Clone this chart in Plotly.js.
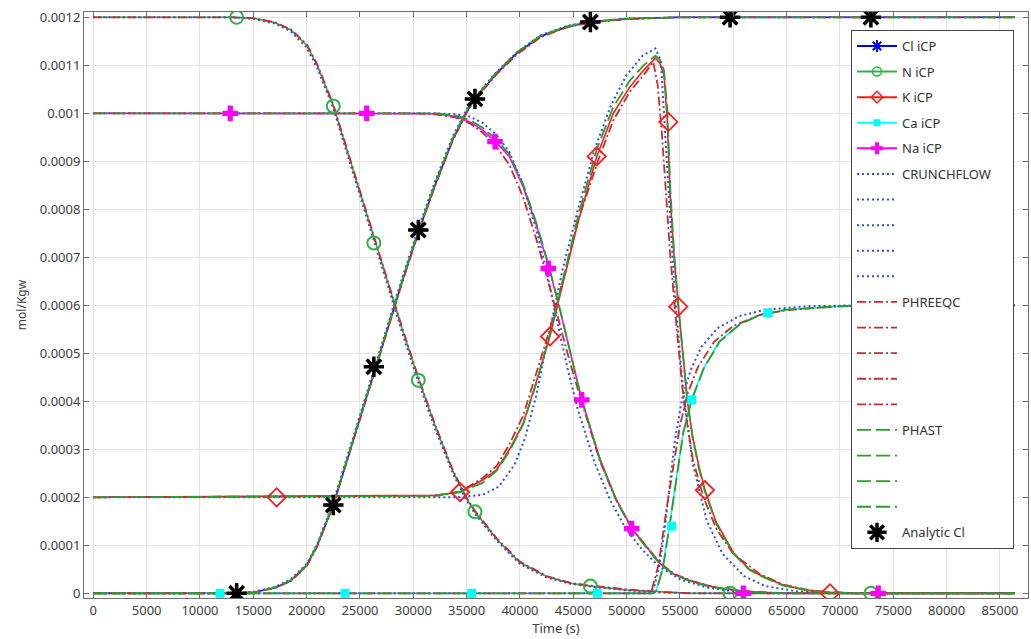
<!DOCTYPE html>
<html><head><meta charset="utf-8">
<script src="https://cdn.plot.ly/plotly-3.0.1.min.js"></script>
<style>html,body{margin:0;padding:0;background:#fff}#chart{width:1031px;height:639px}</style>
</head><body><div id="chart"></div>
<script>
// ---------------- data (time in s, concentration in mol/Kgw) ----------------
const tCl = [0,13000,15000,17000,18500,20000,21000,22500,24000,25000,26300,28000,29000,30470,32000,33700,35000,35780,37800,39700,41900,44400,46600,50000,55000,86400];
const clIcp = [0,0,0.000002,0.000011,0.000026,0.000058,0.0001,0.000184,0.000292,0.000365,0.00046,0.00058,0.000652,0.000752,0.000848,0.000945,0.001003,0.00103,0.001083,0.001125,0.00116,0.00118,0.00119,0.001197,0.0012,0.0012];
const clCf  = [0,0,0.000003,0.000013,0.000029,0.000061,0.000103,0.00019,0.000299,0.000372,0.000467,0.000588,0.00066,0.00076,0.000856,0.000952,0.001008,0.001034,0.001086,0.001127,0.001162,0.001182,0.001191,0.001197,0.0012,0.0012];
const clPh  = [0,0,0.000002,0.000011,0.000025,0.000056,0.000098,0.000183,0.00029,0.000363,0.000458,0.000578,0.00065,0.00075,0.000846,0.000943,0.001001,0.001028,0.001081,0.001122,0.001158,0.001179,0.001189,0.001196,0.0012,0.0012];
const clPs  = [0,0,0.000002,0.000012,0.000027,0.000059,0.000101,0.000186,0.000294,0.000367,0.000463,0.000583,0.000655,0.000755,0.000851,0.000948,0.001006,0.001032,0.001085,0.001127,0.001161,0.001181,0.00119,0.001197,0.0012,0.0012];

const tN = [0,13000,15000,17000,18500,20000,21000,22500,24000,25000,26300,28000,29000,30470,32000,33700,35000,35780,37800,40000,42500,44700,46600,50000,53000,56000,86400];
const nIcp = [0.0012,0.0012,0.001198,0.001189,0.001174,0.001142,0.0011,0.001016,0.000908,0.000835,0.00074,0.00062,0.000548,0.000448,0.000352,0.000255,0.000197,0.00017,0.000113,0.000064,0.000035,0.000021,0.000015,0.000007,0.000003,0,0];
const nCf  = [0.0012,0.0012,0.001197,0.001187,0.001171,0.001137,0.001094,0.00101,0.000901,0.000828,0.000733,0.000612,0.00054,0.00044,0.000345,0.00025,0.000193,0.000166,0.00011,0.000061,0.000033,0.00002,0.000014,0.000006,0.000002,0,0];
const nPh  = [0.0012,0.0012,0.001198,0.00119,0.001175,0.001144,0.001102,0.001018,0.00091,0.000837,0.000742,0.000622,0.00055,0.00045,0.000354,0.000257,0.000199,0.000172,0.000115,0.000066,0.000036,0.000022,0.000016,0.000008,0.000003,0,0];

const tK = [0,32000,34400,36500,37800,39000,40300,41500,42800,43500,44500,45500,47200,48750,50300,51600,52700,53100,53500,53800,54100,54450,54850,55700,56200,56800,57350,58400,60000,61500,62500,64700,67000,69000,72000,86400];
const kIcp = [0.0002,0.000204,0.000211,0.000236,0.000257,0.000299,0.000354,0.000438,0.000535,0.000597,0.00069,0.000778,0.00091,0.001,0.001055,0.00109,0.001115,0.001105,0.00108,0.00099,0.00082,0.0007,0.000597,0.0004,0.000325,0.000262,0.000215,0.000148,0.000085,0.00005,0.000038,0.000017,0.000006,0.000002,0,0];
const kPs  = [0.0002,0.000203,0.000211,0.00023,0.000255,0.000295,0.000352,0.000435,0.000538,0.000603,0.0007,0.00079,0.000925,0.001013,0.001068,0.0011,0.00112,0.001112,0.00109,0.00101,0.00084,0.00071,0.0006,0.0004,0.000322,0.000258,0.000211,0.000145,0.000083,0.000049,0.000037,0.000016,0.000006,0.000002,0,0];
const tKCf = [0,34000,36500,38000,39500,40500,41500,42800,44000,45500,47000,48500,50000,51500,52700,53200,53600,54000,54500,55300,56200,57500,59000,61000,63000,66000,70000,86400];
const kCf  = [0.0002,0.0002,0.000205,0.000222,0.000268,0.000325,0.00041,0.000545,0.000675,0.000805,0.000925,0.001015,0.00108,0.00112,0.001135,0.00111,0.00096,0.0008,0.00063,0.00042,0.00027,0.000152,0.000082,0.000036,0.000015,0.000004,0,0];
const tKPh = [0,32000,34400,36500,37800,39000,40300,41500,42800,44000,45500,47300,48750,50300,51600,52500,52900,53300,53750,54100,54700,55350,56200,57200,58400,60000,62500,64700,67000,69000,72000,86400];
const kPh  = [0.0002,0.000203,0.000212,0.00024,0.000265,0.00031,0.00037,0.000455,0.00055,0.00065,0.00078,0.0009,0.000985,0.001045,0.00108,0.001107,0.00106,0.00096,0.0008,0.0007,0.00055,0.0004,0.00028,0.0002,0.000135,0.000082,0.00004,0.000018,0.000007,0.000002,0,0];

const tCa = [0,52500,52800,53400,54000,54700,55300,56100,57200,58700,60600,62500,65000,70000,75000,86400];
const caIcp = [0,0,0.000007,0.000055,0.000139,0.00025,0.000335,0.000405,0.000468,0.000525,0.000561,0.00058,0.000591,0.000598,0.0006,0.0006];
const caPs  = [0,0,0.000006,0.000053,0.000137,0.000248,0.000333,0.000403,0.000467,0.000524,0.00056,0.00058,0.000591,0.000598,0.0006,0.0006];
const tCaCf = [0,52200,52600,53000,53500,54000,54500,55200,56000,57000,58500,60500,63000,67000,72000,86400];
const caCf  = [0,0,0.000015,0.00005,0.00012,0.000215,0.000315,0.000405,0.000465,0.000513,0.000552,0.000577,0.000591,0.000598,0.0006,0.0006];
const tCaPh = [0,52200,52400,53000,53700,54400,55000,55700,56700,58200,60000,62500,65000,70000,75000,86400];
const caPh  = [0,0,0.00001,0.00006,0.00017,0.00027,0.00035,0.000415,0.000472,0.000524,0.000557,0.00058,0.00059,0.000598,0.0006,0.0006];

const tNa = [0,30000,32200,34000,35300,36500,37700,39000,40300,41500,42700,43750,44700,45800,47500,49000,50500,52000,53100,54500,56250,58000,60000,62000,65000,86400];
const naIcp = [0.001,0.001,0.000999,0.000993,0.000982,0.000965,0.000941,0.00091,0.000847,0.00077,0.00068,0.00059,0.000505,0.000403,0.00028,0.000197,0.000135,0.000093,0.0000625,0.000039,0.000024,0.000014,0.000007,0.000003,0,0];
const naPs  = [0.001,0.001,0.001,0.000995,0.000986,0.00097,0.000947,0.000915,0.000852,0.000774,0.000683,0.000592,0.000505,0.000402,0.000278,0.000195,0.000133,0.000091,0.000061,0.000038,0.000023,0.000013,0.000006,0.000002,0,0];
const tNaCf = [0,32000,34000,35300,36500,37800,39000,40300,41500,42500,43500,44500,45400,47000,48500,50000,51500,53000,55000,57500,60000,63000,86400];
const naCf  = [0.001,0.001,0.000998,0.000993,0.00098,0.000955,0.00092,0.00085,0.00076,0.00067,0.000565,0.000465,0.000385,0.000272,0.000192,0.000132,0.00009,0.000057,0.000029,0.000012,0.000004,0,0];
const tNaPh = [0,30000,32000,34000,35300,36500,37800,39000,40300,41500,42500,43500,44700,45900,47500,49000,50500,52000,53100,54500,56250,58000,60000,62000,65000,86400];
const naPh  = [0.001,0.001,0.000998,0.000991,0.000979,0.00096,0.00093,0.000893,0.000825,0.00074,0.000662,0.00058,0.00048,0.00039,0.000275,0.000195,0.000135,0.000094,0.000064,0.00004,0.000025,0.000014,0.000007,0.000003,0,0];

// sparse marker samples
const tMark = [13440,22500,26300,30470,35780,46600,59700,72900];
const clMark = [0,0.000184,0.000472,0.000757,0.00103,0.00119,0.0012,0.0012];
const nMark  = [0.0012,0.001015,0.00073,0.000444,0.00017,0.000015,0,0];
const tKMark = [17190,34380,42810,47190,53910,54840,57340,69060];
const kMark  = [0.0002,0.000211,0.000535,0.00091,0.000982,0.000597,0.000215,0];
const tCaMark = [11880,23600,35470,47250,54220,56100,63250];
const caMark  = [0,0,0,0,0.00014,0.000403,0.000584];
const tNaMark = [12840,25630,37660,42660,45790,50470,60940,73590];
const naMark  = [0.001,0.001,0.000941,0.000677,0.000403,0.000135,0,0];
const tAna = [13440,22500,26300,30470,35780,46600,59700,72900];
const clAna = [0,0.000184,0.000472,0.000757,0.00103,0.00119,0.0012,0.0012];

const legendNames = ['Cl iCP','N iCP','K iCP','Ca iCP','Na iCP','CRUNCHFLOW',' ',' ',' ',' ','PHREEQC',' ',' ',' ',' ','PHAST',' ',' ',' ','Analytic Cl'];
const xTickVals = [0,5000,10000,15000,20000,25000,30000,35000,40000,45000,50000,55000,60000,65000,70000,75000,80000,85000];
const xTickText = ['0','5000','10000','15000','20000','25000','30000','35000','40000','45000','50000','55000','60000','65000','70000','75000','80000','85000'];
const yTickVals = [0,0.0001,0.0002,0.0003,0.0004,0.0005,0.0006,0.0007,0.0008,0.0009,0.001,0.0011,0.0012];
const yTickText = ['0','0.0001','0.0002','0.0003','0.0004','0.0005','0.0006','0.0007','0.0008','0.0009','0.001','0.0011','0.0012'];

// ---------------- styles ----------------
const FONT = 'Noto Sans, Open Sans, sans-serif';
const PAD = '\u00a0\u00a0\u00a0\u00a0\u00a0'; // widens the legend box
const C = {cl:'#0000ff', n:'#2fb24a', k:'#ff1a1a', ca:'#00ffff', na:'#ff00ff',
           cf:'#2f4fe6', ph:'#c62e2e', ps:'#2a9e2a', ana:'#000000'};
const icpMk = {
  cl:{symbol:'asterisk-open', size:10, lw:2},
  n:{symbol:'circle-open', size:9, lw:1.5},
  k:{symbol:'diamond-open', size:9, lw:1.5},
  ca:{symbol:'square', size:7, lw:0},
  na:{symbol:'cross', size:10, lw:0}
};
const DOT = '2px,3px', DASHDOT = '9px,3px,2px,3px', DASH = '14px,5px';

function nm(i){ return legendNames[i] === 'CRUNCHFLOW' ? legendNames[i] + PAD : legendNames[i]; }

const traces = [];
let li = 0;
function legendTrace(extra){
  const t = Object.assign({x:[null], y:[null], type:'scatter', name:nm(li),
    legendgroup:'g'+li, showlegend:true, hoverinfo:'skip'}, extra);
  li++;
  traces.push(t);
}
function line(x, y, color, width, dash, withLegend){
  const t = {x:x, y:y, type:'scatter', mode:'lines', line:{color:color, width:width, dash:dash},
             hoverinfo:'skip', showlegend:false};
  if (withLegend) { Object.assign(t, {showlegend:true, name:nm(li), legendgroup:'g'+li}); li++; }
  traces.push(t);
}

// iCP legend entries (line + marker)
['cl','n','k','ca','na'].forEach(s => legendTrace({mode:'lines+markers',
  line:{color:C[s], width:2},
  marker:{symbol:icpMk[s].symbol, size:icpMk[s].size, color:C[s], line:{width:icpMk[s].lw, color:C[s]}}}));

// iCP solid lines
line(tCl, clIcp, C.cl, 1.6, 'solid');
line(tN, nIcp, C.n, 1.6, 'solid');
line(tK, kIcp, C.k, 1.6, 'solid');
line(tCa, caIcp, C.ca, 1.6, 'solid');
line(tNa, naIcp, C.na, 1.6, 'solid');

// CRUNCHFLOW
line(tCl, clCf, C.cf, 2, DOT, true);
line(tN, nCf, C.cf, 2, DOT, true);
line(tKCf, kCf, C.cf, 2, DOT, true);
line(tCaCf, caCf, C.cf, 2, DOT, true);
line(tNaCf, naCf, C.cf, 2, DOT, true);

// PHREEQC
line(tCl, clPh, C.ph, 1.8, DASHDOT, true);
line(tN, nPh, C.ph, 1.8, DASHDOT, true);
line(tKPh, kPh, C.ph, 1.8, DASHDOT, true);
line(tCaPh, caPh, C.ph, 1.8, DASHDOT, true);
line(tNaPh, naPh, C.ph, 1.8, DASHDOT, true);

// PHAST
line(tCl, clPs, C.ps, 1.8, DASH, true);
line(tK, kPs, C.ps, 1.8, DASH, true);
line(tCa, caPs, C.ps, 1.8, DASH, true);
line(tNa, naPs, C.ps, 1.8, DASH, true);

// iCP markers on the plot
function marks(x, y, color, symbol, size, lw){
  traces.push({x:x, y:y, type:'scatter', mode:'markers', showlegend:false, hoverinfo:'skip',
    marker:{symbol:symbol, size:size, color:color, line:{width:lw, color:color}}});
}
marks(tMark, clMark, C.cl, 'asterisk-open', 14, 2.5);
marks(tMark, nMark, C.n, 'circle-open', 13, 2);
marks(tKMark, kMark, C.k, 'diamond-open', 14, 1.8);
marks(tCaMark, caMark, C.ca, 'square', 9, 0);
marks(tNaMark, naMark, C.na, 'cross', 13, 0);

// Analytic Cl
traces.push({x:tAna, y:clAna, type:'scatter', mode:'markers', name:nm(li), legendgroup:'g'+li,
  showlegend:true, hoverinfo:'skip',
  marker:{symbol:'asterisk-open', size:17, color:C.ana, line:{width:3.5, color:C.ana}}});

const axisCommon = {showline:true, linecolor:'#6e6e6e', linewidth:1, mirror:'ticks', ticks:'inside',
  ticklen:5, tickcolor:'#6e6e6e', showgrid:true, gridcolor:'#e4e4e4', gridwidth:1, zeroline:false,
  tickfont:{family:FONT, size:13, color:'#404040'}, tickmode:'array'};

const layout = {
  width:1031, height:639,
  margin:{l:84, r:3, t:12, b:41, pad:0},
  paper_bgcolor:'#ffffff', plot_bgcolor:'#ffffff',
  font:{family:FONT, size:13, color:'#404040'},
  showlegend:true,
  xaxis:Object.assign({}, axisCommon, {range:[-872, 87628], tickvals:xTickVals, ticktext:xTickText,
    title:{text:'Time (s)', font:{family:FONT, size:13, color:'#404040'}, standoff:2}}),
  yaxis:Object.assign({}, axisCommon, {range:[-0.0000098, 0.001211], tickvals:yTickVals, ticktext:yTickText,
    title:{text:'mol/Kgw', font:{family:FONT, size:12, color:'#404040'}, standoff:10}}),
  legend:{x:0.8125, y:0.9693, xanchor:'left', yanchor:'top', bgcolor:'#ffffff',
    bordercolor:'#444444', borderwidth:1, font:{family:FONT, size:13, color:'#333333'},
    tracegroupgap:5.7, itemwidth:40, traceorder:'grouped'}
};

Plotly.newPlot('chart', traces, layout, {staticPlot:true, displayModeBar:false});
</script>
</body></html>
